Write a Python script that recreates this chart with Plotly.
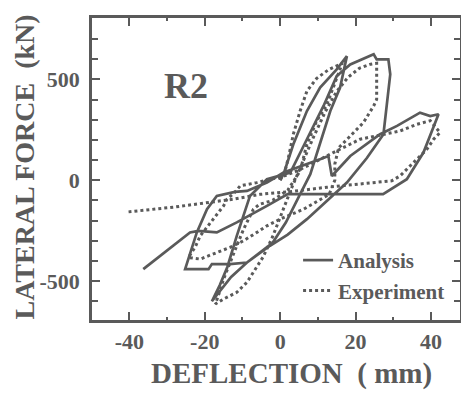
import plotly.graph_objects as go

# ---- data (deflection mm, lateral force kN) ----
analysis_x = [0, 0.9, 3.5, 7.1, 10.6, 15, 17.7,
              15.9, 13.3, 10.6, 8, 5, 1.5, -2, -8.8, -13, -18.1,
              -16, -14, -11.5, -8, -3.5, 2.7, 7.1, 11.5, 15, 18.6, 24.8, 25.6, 28.7, 29.2, 27.4,
              23, 17.7, 12, 7.1, 2, -2.7, -8.8, -13.3, -18.1, -19, -25.2,
              -22.1, -19.4, -16.8, -12, -8.8, -3.5, 0.9, 10.6, 12.8, 13.7, 18.6, 26.5, 31, 37.1, 39.8, 42,
              38, 33.6, 27.3, 15, 2, -3.5, -11.5, -16.8, -21.7, -23.9, -28.3, -32.7, -36.3]
analysis_y = [0, 30, 178, 343, 459, 549, 615,
              459, 343, 178, 30, -80, -210, -310, -408, -480, -600,
              -520, -430, -276, -78, 5, 38, 203, 368, 516, 574, 624, 599, 599, 525, 228,
              110, -12, -110, -193, -270, -325, -408, -416, -416, -441, -441,
              -259, -144, -78, -58, -53, -12, 38, 104, 120, 21, 120, 228, 269, 335, 318, 327,
              137, 5, -69, -69, -69, -127, -209, -259, -251, -259, -325, -391, -441]

experiment_x = [0, 1.3, 2.2, 3.5, 5.3, 7.1, 9.7, 13, 16.5,
                14.1, 12.4, 9.7, 7.1, 5.3, 2, -2, -5.5, -7.1, -9.7, -11.5, -13.3, -15, -16.4, -17.2,
                -15, -11.5, -8.8, -7.1, -4.5, -2, 0.5, 3, 6, 9, 12, 15, 18, 21, 24, 25.6,
                25.6, 25.6, 24.8, 22.1, 18.6, 15.5, 14.5, 14.5, 13, 6.2, 0, -3.5, -6.2, -9.7, -13.3, -16.8, -21.2, -24.3,
                -22.5, -21.2, -17.7, -15, -14.1, -12, -10.6, -6.2, -2.7, 0, 5, 9, 14.1, 21.2, 27.4, 31.8, 36.3, 39.8, 42.4,
                40.7, 38.9, 37.1, 34.5, 31.8, 29.6, 20, 12.4, 3.5, -5.3, -12.4, -18.6, -28, -40.2]
experiment_y = [0, 46, 112, 228, 343, 442, 505, 550, 580,
                459, 376, 294, 178, 46, -50, -100, -120, -144, -243, -325, -408, -490, -573, -614,
                -589, -556, -506, -457, -380, -280, -160, -40, 90, 220, 340, 440, 510, 555, 575, 580,
                500, 401, 368, 286, 219, 160, 80, 0, -70, -144, -193, -226, -259, -300, -333, -358, -391, -383,
                -330, -276, -193, -127, -94, -60, -28, -12, 5, 13, 50, 90, 137, 203, 228, 244, 277, 295, 236,
                203, 153, 120, 71, 21, -3, -20, -35, -55, -70, -94, -110, -133, -157]

x_ticks = [-40, -20, 0, 20, 40]
x_ticktext = ["-40", "-20", "0", "20", "40"]
y_ticks = [-500, 0, 500]
y_ticktext = ["-500", "0", "500"]

GRAY = "#5a5a5a"
FONT = "Liberation Serif"

fig = go.Figure()
fig.add_trace(go.Scatter(x=analysis_x, y=analysis_y, mode="lines", name="Analysis",
                         line=dict(color=GRAY, width=2.7)))
fig.add_trace(go.Scatter(x=experiment_x, y=experiment_y, mode="lines", name="Experiment",
                         line=dict(color=GRAY, width=3, dash="3px,3px")))

# page body has an 8px default margin, so the figure is sized to fit the 469x400 window
fig.update_layout(
    width=461, height=392,
    margin=dict(l=84, r=9, t=10, b=80, autoexpand=False),
    paper_bgcolor="white", plot_bgcolor="white",
    font=dict(family=FONT, color=GRAY, size=21, weight="bold"),
    showlegend=True,
    legend=dict(x=0.56, y=0.265, xanchor="left", yanchor="top",
                bgcolor="rgba(0,0,0,0)", font=dict(family=FONT, size=21, color=GRAY, weight="bold"),
                tracegroupgap=0, itemwidth=30),
)
fig.update_xaxes(range=[-49.9, 47.7], tickvals=x_ticks, ticktext=x_ticktext, ticks="inside",
                 ticklen=8, tickwidth=2,
                 tickcolor=GRAY, showline=True, linecolor=GRAY, linewidth=2.5, mirror="allticks",
                 showgrid=False, zeroline=False, ticklabelstandoff=0,
                 minor=dict(dtick=10, tick0=0, ticks="inside", ticklen=3, tickwidth=2, tickcolor=GRAY),
                 tickfont=dict(family=FONT, size=22, color=GRAY, weight="bold"))
fig.update_yaxes(range=[-693, 804], tickvals=y_ticks, ticktext=y_ticktext, ticks="inside",
                 ticklen=8, tickwidth=2,
                 tickcolor=GRAY, showline=True, linecolor=GRAY, linewidth=2.5, mirror="allticks",
                 showgrid=False, zeroline=False, ticklabelstandoff=5,
                 minor=dict(dtick=100, tick0=0, ticks="inside", ticklen=6, tickwidth=2, tickcolor=GRAY),
                 tickfont=dict(family=FONT, size=22, color=GRAY, weight="bold"))

fig.add_annotation(text="R2", xref="paper", yref="paper", x=0.255, y=0.775, showarrow=False,
                   xanchor="center", yanchor="middle",
                   font=dict(family=FONT, size=36, color=GRAY, weight="bold"))
fig.add_annotation(text="DEFLECTION  ( mm)", xref="paper", yref="paper", x=0.543, y=-0.178,
                   xanchor="center", yanchor="middle", showarrow=False,
                   font=dict(family=FONT, size=29, color=GRAY, weight="bold"))
fig.add_annotation(text="LATERAL FORCE  (kN)", xref="paper", yref="paper", x=-0.183, y=0.507,
                   xanchor="center", yanchor="middle", textangle=-90, showarrow=False,
                   font=dict(family=FONT, size=28, color=GRAY, weight="bold"))

fig.write_html("out.html")
